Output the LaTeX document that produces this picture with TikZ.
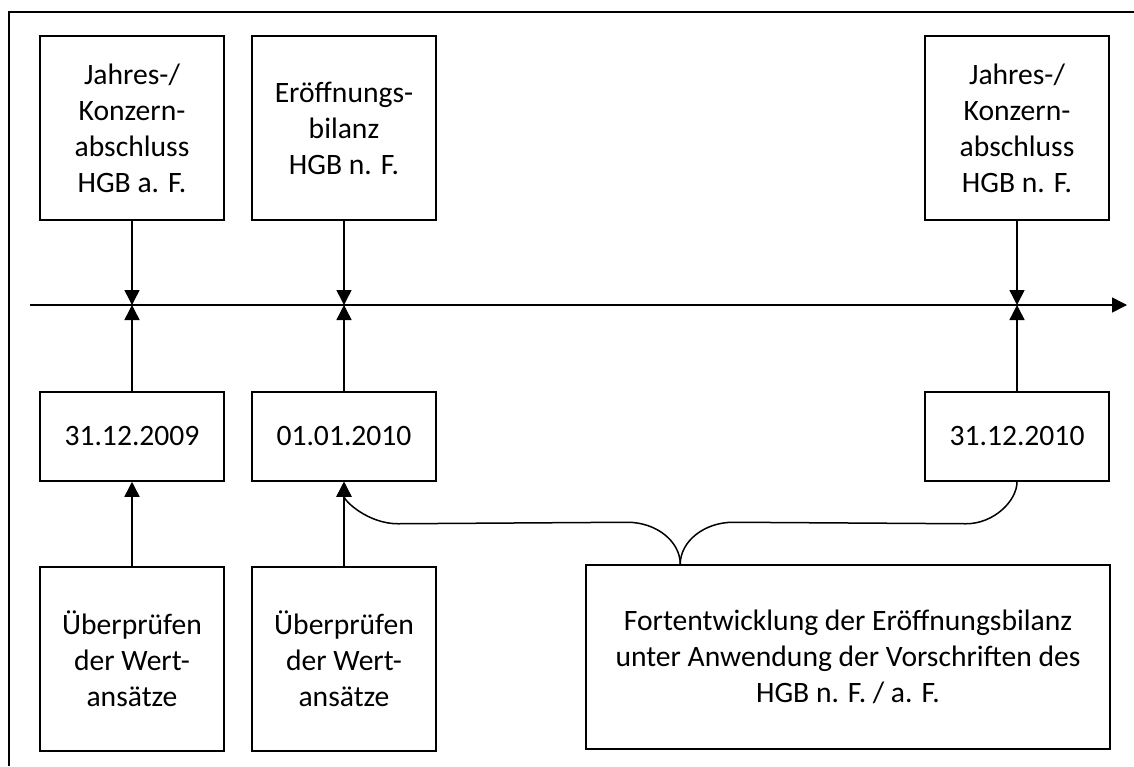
\documentclass[tikz,border=0pt]{standalone}
\usepackage{fontspec}
\setmainfont{Carlito}
\usetikzlibrary{arrows.meta,calc}
\begin{document}
\begin{tikzpicture}[x=1pt,y=-1pt,
  lw/.style={line width=1.5pt},
  txt/.style={font=\fontsize{29.6}{36}\selectfont},
  tall/.style={draw,lw,txt,minimum width=184pt,minimum height=184pt,inner sep=0pt,align=center},
  datebox/.style={draw,lw,txt,minimum width=184pt,minimum height=89pt,inner sep=0pt,align=center},
  widebox/.style={draw,lw,txt,minimum width=524pt,minimum height=184pt,inner sep=0pt,align=center},
  arr/.style={lw,-{Triangle[length=15pt,width=15pt]}},
  plain/.style={lw}]
\useasboundingbox (0,0) rectangle (1134,766);
\fill[white] (0,0) rectangle (1134,766);
% frame (cropped)
\coordinate (fbl) at (9,766);
\coordinate (ftl) at (9,12);
\coordinate (ftr) at (1134,12);
\draw[plain] (fbl) -- (ftl) -- (ftr);
% top boxes
\node[tall] (t1) at (132,128) {Jahres-/\\Konzern-\\abschluss\\HGB a. F.};
\node[tall] (t2) at (344,128) {Eröffnungs-\\bilanz\\HGB n. F.};
\node[tall] (t3) at (1017,128) {Jahres-/\\Konzern-\\abschluss\\HGB n. F.};
% axis
\coordinate (ax0) at (30,305);
\coordinate (ax1) at (1127,305);
\draw[arr] (ax0) -- (ax1);
% date boxes
\node[datebox] (d1) at (132,436.5) {31.12.2009};
\node[datebox] (d2) at (344,436.5) {01.01.2010};
\node[datebox] (d3) at (1017,436.5) {31.12.2010};
% bottom boxes
\node[tall] (b1) at (132,659) {Überprüfen\\der Wert-\\ansätze};
\node[tall] (b2) at (344,659) {Überprüfen\\der Wert-\\ansätze};
\node[widebox] (fort) at (848,657) {Fortentwicklung der Eröffnungsbilanz\\unter Anwendung der Vorschriften des\\HGB n. F. / a. F.};
% arrows to axis
\draw[arr] (t1.south) -- (t1.south |- ax0);
\draw[arr] (t2.south) -- (t2.south |- ax0);
\draw[arr] (t3.south) -- (t3.south |- ax0);
\draw[arr] (d1.north) -- (d1.north |- ax0);
\draw[arr] (d2.north) -- (d2.north |- ax0);
\draw[arr] (d3.north) -- (d3.north |- ax0);
% bottom arrows
\draw[arr] (b1.north) -- (d1.south);
\draw[arr] (b2.north) -- (d2.south);
% brace connector
\coordinate (tip) at ($(fort.north west)+(95,0)$);
\draw[arr] (tip) .. controls ($(tip)+(0,-23)$) and ($(tip)+(-24,-42)$) .. ($(tip)+(-53,-42)$)
  -- ($(d2.south)+(54,42)$) .. controls ($(d2.south)+(24,42)$) and ($(d2.south)+(0,19)$) .. (d2.south);
\draw[plain] (tip) .. controls ($(tip)+(0,-23)$) and ($(tip)+(24,-42)$) .. ($(tip)+(53,-42)$)
  -- ($(d3.south)+(-51,42)$) .. controls ($(d3.south)+(-23,42)$) and ($(d3.south)+(0,19)$) .. (d3.south);
\end{tikzpicture}
\end{document}
